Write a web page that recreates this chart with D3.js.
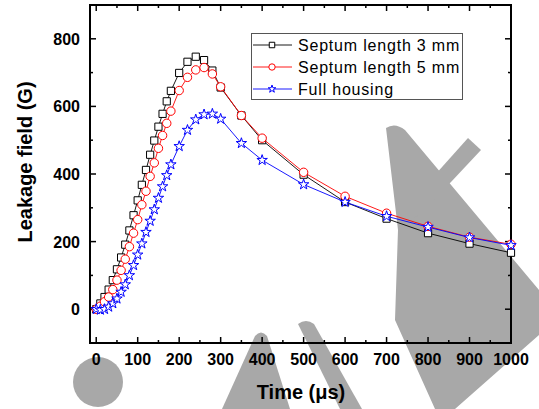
<!DOCTYPE html>
<html><head><meta charset="utf-8">
<script src="https://cdn.jsdelivr.net/npm/d3@7"></script>
<style>html,body{margin:0;padding:0;background:#fff;}svg{display:block;font-family:"Liberation Sans",Arial,sans-serif;}</style>
</head><body>
<svg id="c" width="539" height="409"></svg>
<script>
const times = [0,10,20,30,40,50,60,70,80,90,100,110,120,130,140,150,160,170,180,200,220,240,260,280,300,350,400,500,600,700,800,900,1000];
const septum3 = [0,17,36,58,86,118,153,191,233,278,322,368,412,457,499,540,578,615,646,699,732,747,737,706,656,573,500,398,317,268,225,194,167];
const septum5 = [0,9,22,36,58,86,115,148,185,225,265,309,349,393,433,476,514,550,586,647,686,708,715,696,658,573,506,405,334,284,245,213,192];
const fullHousing = [0,-2,0,7,17,31,51,73,100,130,161,194,228,261,295,329,363,396,428,482,530,561,576,578,563,491,441,369,317,275,243,212,189];
const seriesNames = ["Septum length 3 mm","Septum length 5 mm","Full housing"];
const xTicks = [0,100,200,300,400,500,600,700,800,900,1000];
const yTicks = [0,200,400,600,800];

const svg = d3.select("#c");
const L=90,R=511,T=5,B=343;
const x = d3.scaleLinear().domain([-15,1000]).range([L,R]);
const y = d3.scaleLinear().domain([-100,900]).range([B,T]);

// watermark (behind)
const wm = svg.append("g").attr("fill","#a8a8a8");
wm.append("circle").attr("cx",98).attr("cy",382).attr("r",25);
wm.append("path").attr("d","M222,409 L255,336 Q261,329 267,336 L290,409 Z");
wm.append("path").attr("d","M298,324 Q306,318 314,324 L362,409 L340,409 Z");
wm.append("path").attr("d","M386,128 Q395,122 405,130 L539,290 L539,335 L455,409 L435,409 L395,320 L398,230 Z");
wm.append("path").attr("d","M468,138 L481,150 L420,215 L404,222 L400,214 Z");
</script>
<script>
const svg2 = d3.select("#c");
const series = [
  {name:seriesNames[0], vals:septum3, color:"#000000", sym:d3.symbolSquare, size:52, lsize:30},
  {name:seriesNames[1], vals:septum5, color:"#ff0000", sym:d3.symbolCircle, size:56, lsize:32},
  {name:seriesNames[2], vals:fullHousing, color:"#0000ff", sym:d3.symbolStar, size:34, lsize:18}
];

svg2.append("rect").attr("x",L).attr("y",T).attr("width",R-L).attr("height",B-T)
  .attr("fill","none").attr("stroke","#000").attr("stroke-width",2);

const tg = svg2.append("g").attr("stroke","#000").attr("stroke-width",1.5);
const xMinor = d3.range(50,1000,100);
xTicks.forEach(v=>{
  tg.append("line").attr("x1",x(v)).attr("x2",x(v)).attr("y1",B).attr("y2",B-6);
  tg.append("line").attr("x1",x(v)).attr("x2",x(v)).attr("y1",T).attr("y2",T+6);
});
xMinor.forEach(v=>{
  tg.append("line").attr("x1",x(v)).attr("x2",x(v)).attr("y1",B).attr("y2",B-3);
  tg.append("line").attr("x1",x(v)).attr("x2",x(v)).attr("y1",T).attr("y2",T+3);
});
const yMinor = [100,300,500,700];
yTicks.forEach(v=>{
  tg.append("line").attr("y1",y(v)).attr("y2",y(v)).attr("x1",L).attr("x2",L+6);
  tg.append("line").attr("y1",y(v)).attr("y2",y(v)).attr("x1",R).attr("x2",R-6);
});
yMinor.forEach(v=>{
  tg.append("line").attr("y1",y(v)).attr("y2",y(v)).attr("x1",L).attr("x2",L+3);
  tg.append("line").attr("y1",y(v)).attr("y2",y(v)).attr("x1",R).attr("x2",R-3);
});

svg2.append("g").selectAll("text").data(xTicks).join("text")
  .attr("x",d=>x(d)).attr("y",365).attr("text-anchor","middle")
  .attr("font-size",16).attr("font-weight","bold").text(d=>d);
svg2.append("g").selectAll("text").data(yTicks).join("text")
  .attr("x",80).attr("y",d=>y(d)+6).attr("text-anchor","end")
  .attr("font-size",16).attr("font-weight","bold").text(d=>d);

svg2.append("text").attr("x",301).attr("y",399).attr("text-anchor","middle")
  .attr("font-size",20).attr("font-weight","bold").text("Time (\u03bcs)");
svg2.append("text").attr("transform","translate(32,162) rotate(-90)").attr("text-anchor","middle")
  .attr("font-size",20).attr("font-weight","bold").text("Leakage field (G)");

const line = d3.line().x((d,i)=>x(times[i])).y(d=>y(d));
series.forEach(s=>{
  const g = svg2.append("g");
  g.append("path").datum(s.vals).attr("d",line).attr("fill","none")
    .attr("stroke",s.color).attr("stroke-width",0.9);
  g.selectAll("path.m").data(s.vals).join("path").attr("class","m")
    .attr("transform",(d,i)=>`translate(${x(times[i])},${y(d)})`)
    .attr("d",d3.symbol(s.sym,s.size)).attr("fill","#fff")
    .attr("stroke",s.color).attr("stroke-width",1);
});

const lg = svg2.append("g");
lg.append("rect").attr("x",251.5).attr("y",33.5).attr("width",211).attr("height",66)
  .attr("fill","#fff").attr("stroke","#555").attr("stroke-width",1);
series.forEach((s,i)=>{
  const yy = 45 + i*22;
  lg.append("line").attr("x1",253).attr("x2",292).attr("y1",yy).attr("y2",yy)
    .attr("stroke",s.color).attr("stroke-width",0.9);
  lg.append("path").attr("transform",`translate(272,${yy})`).attr("d",d3.symbol(s.sym,s.lsize))
    .attr("fill","#fff").attr("stroke",s.color).attr("stroke-width",1);
  lg.append("text").attr("x",298).attr("y",yy+6).attr("font-size",16)
    .attr("letter-spacing","0.8px").text(s.name);
});
</script>
</body></html>
